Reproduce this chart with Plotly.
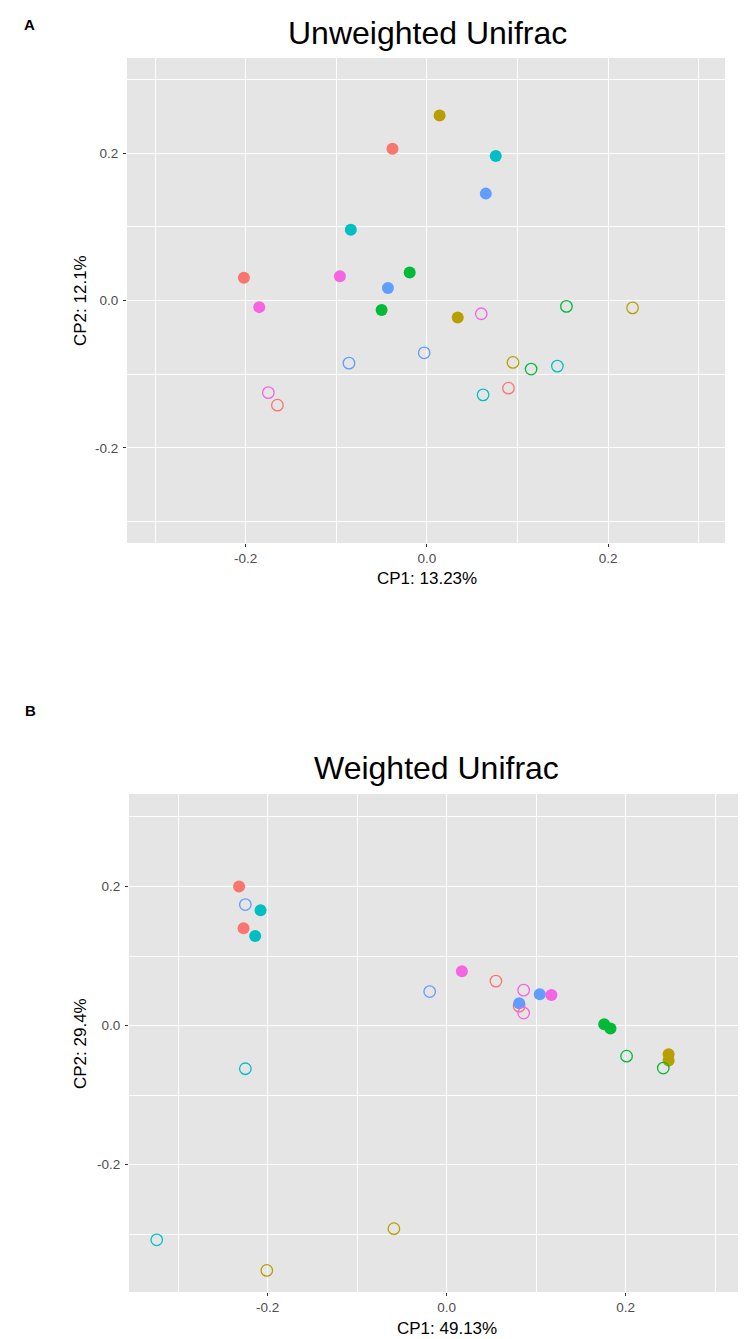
import plotly.graph_objects as go

# groups (ggplot default hue palette, no legend shown in the figure)
groups = ["Group 1", "Group 2", "Group 3", "Group 4", "Group 5", "Group 6"]
group_colors = ["#F8766D", "#B79F00", "#00BA38", "#00BFC4", "#619CFF", "#F564E3"]

# A - Unweighted Unifrac, two filled + two open samples per group
unw_filled_x = [[-0.202, -0.038], [0.014, 0.034], [-0.019, -0.050],
                [-0.084, 0.076], [-0.043, 0.065], [-0.096, -0.185]]
unw_filled_y = [[0.031, 0.206], [0.251, -0.023], [0.038, -0.013],
                [0.096, 0.196], [0.017, 0.145], [0.033, -0.009]]
unw_open_x = [[-0.165, 0.090], [0.095, 0.227], [0.154, 0.115],
              [0.144, 0.062], [-0.003, -0.086], [0.060, -0.175]]
unw_open_y = [[-0.142, -0.119], [-0.084, -0.010], [-0.008, -0.093],
              [-0.089, -0.128], [-0.071, -0.085], [-0.018, -0.125]]

# B - Weighted Unifrac
w_filled_x = [[-0.232, -0.227], [0.248, 0.248], [0.176, 0.183],
              [-0.208, -0.214], [0.104, 0.081], [0.017, 0.117]]
w_filled_y = [[0.200, 0.140], [-0.041, -0.050], [0.002, -0.004],
              [0.166, 0.129], [0.045, 0.032], [0.078, 0.044]]
w_open_x = [[0.055, 0.081], [-0.201, -0.059], [0.201, 0.242],
            [-0.225, -0.324], [-0.225, -0.019], [0.086, 0.086]]
w_open_y = [[0.064, 0.028], [-0.352, -0.292], [-0.044, -0.061],
            [-0.062, -0.308], [0.174, 0.049], [0.051, 0.018]]

tick_vals = [-0.2, 0.0, 0.2]
tick_text = ["-0.2", "0.0", "0.2"]
minor_vals = [-0.3, -0.1, 0.1, 0.3]

W, H = 746, 1339
OFF = 8  # page body margin, so positions below are measured on the screenshot
FONT = "Liberation Sans, Arial, Helvetica, sans-serif"

fig = go.Figure()

def add_panel(fx, fy, ox, oy, xa, ya):
    for i, g in enumerate(groups):
        fig.add_trace(go.Scatter(x=fx[i], y=fy[i], mode="markers", name=g,
                                 marker=dict(symbol="circle", size=12, color=group_colors[i],
                                             line=dict(width=0)),
                                 xaxis=xa, yaxis=ya, showlegend=False))
        fig.add_trace(go.Scatter(x=ox[i], y=oy[i], mode="markers", name=g,
                                 marker=dict(symbol="circle-open", size=11.5, color=group_colors[i],
                                             line=dict(width=1.3)),
                                 xaxis=xa, yaxis=ya, showlegend=False))

add_panel(unw_filled_x, unw_filled_y, unw_open_x, unw_open_y, "x", "y")
add_panel(w_filled_x, w_filled_y, w_open_x, w_open_y, "x2", "y2")

def px_x(p):
    return (p - OFF) / W

def px_y(p):
    return 1 - (p - OFF) / H

axis_style = dict(
    tickvals=tick_vals, ticktext=tick_text,
    ticks="outside", ticklen=3, tickwidth=1.1, tickcolor="#333333",
    tickfont=dict(family=FONT, size=13.5, color="#4D4D4D"),
    showgrid=True, gridcolor="white", gridwidth=1.3,
    minor=dict(tickvals=minor_vals, showgrid=True, gridcolor="white", gridwidth=0.6, ticks=""),
    zeroline=False, showline=False,
)

fig.update_layout(
    width=W, height=H,
    margin=dict(l=0, r=0, t=0, b=0),
    paper_bgcolor="white", plot_bgcolor="#E5E5E5",
    font=dict(family=FONT),
    xaxis=dict(domain=[px_x(127), px_x(725)], range=[-0.331, 0.329], anchor="y", **axis_style),
    yaxis=dict(domain=[px_y(543), px_y(58)], range=[-0.329, 0.329], anchor="x",
               ticklabelstandoff=2, **axis_style),
    xaxis2=dict(domain=[px_x(129), px_x(742)], range=[-0.355, 0.330], anchor="y2", **axis_style),
    yaxis2=dict(domain=[px_y(1292), px_y(794)], range=[-0.383, 0.333], anchor="x2",
                ticklabelstandoff=2, **axis_style),
)

def note(text, x, y, size, angle=0, bold=False):
    if bold:
        text = "<b>" + text + "</b>"
    fig.add_annotation(text=text, x=px_x(x), y=px_y(y), xref="paper", yref="paper",
                       showarrow=False, xanchor="center", yanchor="middle", textangle=angle,
                       font=dict(family=FONT, size=size, color="black"))

# panel letters
note("A", 29, 24, 15, bold=True)
note("B", 30, 710, 15, bold=True)

# titles
note("Unweighted Unifrac", 427, 33, 32)
note("Weighted Unifrac", 436, 768, 32)

# axis titles
note("CP1: 13.23%", 427, 578, 17)
note("CP2: 12.1%", 80, 301, 17, angle=-90)
note("CP1: 49.13%", 447, 1328, 17)
note("CP2: 29.4%", 80, 1044, 17, angle=-90)

fig.write_html("out.html")
